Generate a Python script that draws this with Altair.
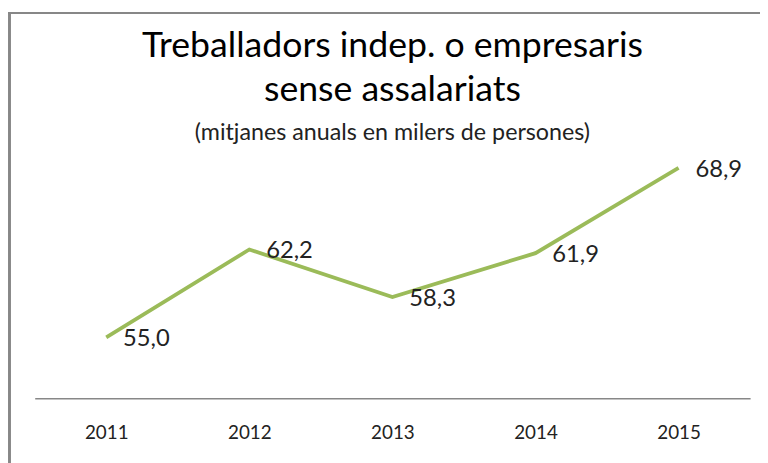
import altair as alt
import pandas as pd

years = ["2011", "2012", "2013", "2014", "2015"]
values = [55.0, 62.2, 58.3, 61.9, 68.9]
labels = [f"{v:.1f}".replace(".", ",") for v in values]

df = pd.DataFrame({"year": years, "value": values, "label": labels})

FONT = "Lato"
GREEN = "#9BBB59"
GRAY = "#878787"

base = alt.Chart(df).encode(
    x=alt.X("year:O", sort=years,
            scale=alt.Scale(type="point", padding=0.5),
            axis=alt.Axis(title=None, labelAngle=0, ticks=False, grid=False,
                          domainColor=GRAY, domainWidth=1.5,
                          labelFont=FONT, labelFontSize=19, labelColor="#222222",
                          labelPadding=26)),
    y=alt.Y("value:Q", scale=alt.Scale(domain=[50, 70], nice=False, zero=False),
            axis=None),
)

line = base.mark_line(color=GREEN, strokeWidth=3.8)
text = base.mark_text(align="left", baseline="middle", dx=17, dy=2,
                      font=FONT, fontSize=24, color="#222222").encode(text="label:N")

border_left = alt.Chart(df).mark_rule(color=GRAY, strokeWidth=2).encode(
    x=alt.value(-25.5), y=alt.value(-143), y2=alt.value(330))
border_top = alt.Chart(df).mark_rule(color=GRAY, strokeWidth=2).encode(
    x=alt.value(-26.5), x2=alt.value(800), y=alt.value(-143))

chart = alt.layer(border_left, border_top, line, text).properties(
    width=723,
    height=246.5,
    autosize=alt.AutoSizeParams(type="none"),
    padding={"left": 27, "top": 145.5, "right": 10, "bottom": 63},
    title=alt.TitleParams(
        text=["Treballadors indep. o empresaris", "sense assalariats"],
        subtitle="(mitjanes anuals en milers de persones)",
        font=FONT, fontSize=36, fontWeight="normal", color="#000000",
        lineHeight=45, subtitleFont=FONT, subtitleFontSize=23.5,
        subtitleColor="#222222", subtitlePadding=12,
        anchor="middle", frame="group", offset=-130, dy=5,
    ),
).configure_view(stroke=None)

chart.save("out.html", embed_options={"renderer": "svg", "actions": False})
